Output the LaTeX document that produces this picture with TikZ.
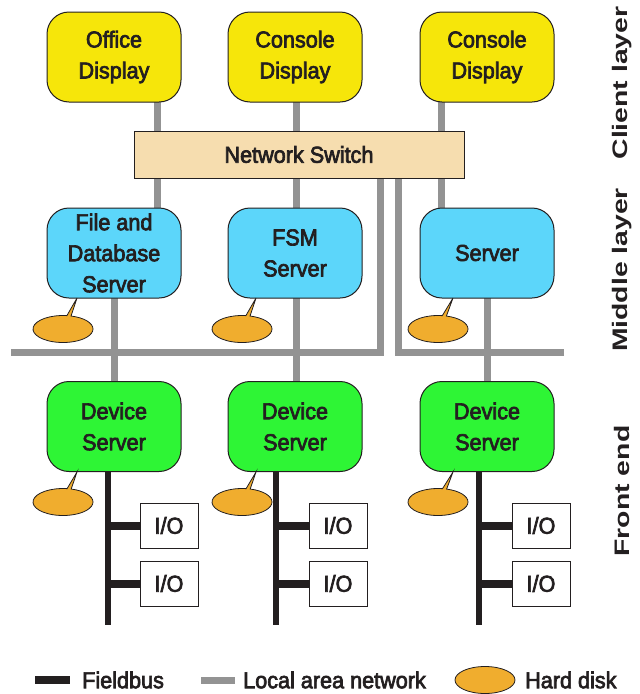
\documentclass[tikz,border=0pt]{standalone}
\usepackage{fontspec}
\setmainfont{Liberation Sans}[FakeStretch=0.94,FakeBold=3]
\newfontfamily\sidefont{Liberation Sans Bold}[FakeStretch=1.35]
\usetikzlibrary{shapes.callouts,shapes.geometric}
\definecolor{dispyellow}{HTML}{F6E60A}
\definecolor{switchtan}{HTML}{F6DDAF}
\definecolor{servblue}{HTML}{5CD6FA}
\definecolor{devgreen}{HTML}{2EF535}
\definecolor{diskorange}{HTML}{F0AD2E}
\definecolor{langray}{HTML}{939393}
\definecolor{inkblack}{HTML}{231F20}
\tikzset{
  box/.style={draw=inkblack,line width=1pt,rounded corners=22pt,minimum width=134pt,
    minimum height=90pt,inner sep=0pt,align=center,font=\fontsize{23}{31}\selectfont,text=inkblack},
  iobox/.style={draw=inkblack,line width=1pt,fill=white,minimum width=58pt,minimum height=45pt,
    inner sep=0pt,font=\fontsize{23}{28}\selectfont,text=inkblack},
  disk/.style={ellipse callout,draw=inkblack,line width=0.8pt,fill=diskorange,minimum width=60pt,
    minimum height=27pt,inner sep=0pt,callout pointer arc=8},
  lan/.style={draw=langray,line width=7pt},
  bus/.style={draw=inkblack,line width=5.5pt},
  stub/.style={draw=inkblack,line width=8pt},
  lbl/.style={inner sep=0pt,font=\fontsize{23}{28}\selectfont,text=inkblack},
  side/.style={rotate=90,inner sep=0pt,font=\sidefont\fontsize{21}{26}\selectfont,text=inkblack}
}
\begin{document}
\begin{tikzpicture}[x=1pt,y=-1pt]
\useasboundingbox (0,0) rectangle (640,694);
% ports and bus ends
\coordinate (upa) at (157,102);
\coordinate (upb) at (296,102);
\coordinate (upc) at (441,102);
\coordinate (mida) at (157,208);
\coordinate (midb) at (296,208);
\coordinate (midc) at (441,208);
\coordinate (lowa) at (114,298);
\coordinate (lowb) at (296,298);
\coordinate (lowc) at (487,298);
\coordinate (deva) at (114,381);
\coordinate (devb) at (296,381);
\coordinate (devc) at (487,381);
\coordinate (lanleftw) at (11,352);
\coordinate (lanlefte) at (380,352);
\coordinate (lanleftn) at (380,178);
\coordinate (lanrightw) at (398,352);
\coordinate (lanrighte) at (564,352);
\coordinate (lanrightn) at (398,178);
\coordinate (busa) at (108,472);
\coordinate (busb) at (276,472);
\coordinate (busc) at (479,472);
\coordinate (enda) at (108,625);
\coordinate (endb) at (276,625);
\coordinate (endc) at (479,625);
% network lines go under the boxes
\draw[lan] (upa) -- (mida);
\draw[lan] (upb) -- (midb);
\draw[lan] (upc) -- (midc);
\draw[lan] (lowa) -- (deva);
\draw[lan] (lowb) -- (devb);
\draw[lan] (lowc) -- (devc);
\draw[lan] (lanleftw) -- (lanlefte) -- (lanleftn);
\draw[lan] (lanrighte) -- (lanrightw) -- (lanrightn);
\draw[bus] (busa) -- (enda);
\draw[bus] (busb) -- (endb);
\draw[bus] (busc) -- (endc);
% client layer
\node[box,fill=dispyellow] (office) at (114,57) {Office\\Display};
\node[box,fill=dispyellow] (consa) at (295,57) {Console\\Display};
\node[box,fill=dispyellow] (consb) at (487,57) {Console\\Display};
\node[draw=inkblack,line width=1pt,fill=switchtan,minimum width=330pt,minimum height=47pt,inner sep=0pt,
  font=\fontsize{23}{28}\selectfont,text=inkblack] (switch) at (299,154.5) {Network Switch};
% middle layer
\node[box,fill=servblue] (filesrv) at (114,253) {File and\\Database\\Server};
\node[box,fill=servblue] (fsmsrv) at (295,253) {FSM\\Server};
\node[box,fill=servblue] (srv) at (487,253) {Server};
% front end
\node[box,fill=devgreen] (deva1) at (114,426.5) {Device\\Server};
\node[box,fill=devgreen] (devb1) at (295,426.5) {Device\\Server};
\node[box,fill=devgreen] (devc1) at (487,426.5) {Device\\Server};
% disks
\node[disk,callout absolute pointer={(77,298)}] (diska) at (63,329) {};
\node[disk,callout absolute pointer={(256,298)}] (diskb) at (242,329) {};
\node[disk,callout absolute pointer={(453,298)}] (diskc) at (438,329) {};
\node[disk,callout absolute pointer={(77,472)}] (diskd) at (63,502) {};
\node[disk,callout absolute pointer={(256,472)}] (diske) at (242,502) {};
\node[disk,callout absolute pointer={(453,472)}] (diskf) at (438,502) {};
% i/o modules
\node[iobox] (ioa) at (169,525.5) {I/O};
\node[iobox] (iob) at (169,583.5) {I/O};
\node[iobox] (ioc) at (338,525.5) {I/O};
\node[iobox] (iod) at (338,583.5) {I/O};
\node[iobox] (ioe) at (541,525.5) {I/O};
\node[iobox] (iof) at (541,583.5) {I/O};
\draw[stub] (ioa.west) -- (ioa.west -| busa);
\draw[stub] (iob.west) -- (iob.west -| busa);
\draw[stub] (ioc.west) -- (ioc.west -| busb);
\draw[stub] (iod.west) -- (iod.west -| busb);
\draw[stub] (ioe.west) -- (ioe.west -| busc);
\draw[stub] (iof.west) -- (iof.west -| busc);
% side labels
\node[side] (sideclient) at (622,83) {Client layer};
\node[side] (sidemiddle) at (622,270) {Middle layer};
\node[side] (sidefront) at (622,491) {Front end};
% legend
\coordinate (keya) at (35,680);
\coordinate (keyb) at (70,680);
\coordinate (keyc) at (201,680);
\coordinate (keyd) at (235,680);
\draw[stub] (keya) -- (keyb);
\draw[lan] (keyc) -- (keyd);
\node[lbl,anchor=west] (keybus) at (82,680) {Fieldbus};
\node[lbl,anchor=west] (keylan) at (243,680) {Local area network};
\node[draw=inkblack,line width=0.8pt,fill=diskorange,ellipse,minimum width=60pt,minimum height=27pt,inner sep=0pt] (keydisk) at (485,680) {};
\node[lbl,anchor=west] (keyhd) at (525,680) {Hard disk};
\end{tikzpicture}
\end{document}
